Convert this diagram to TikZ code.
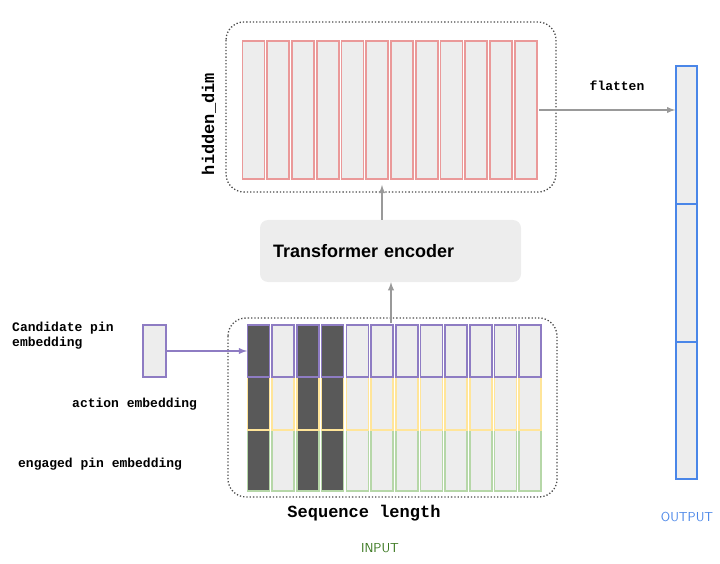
\documentclass[tikz,border=0pt]{standalone}
\usepackage{fontspec}
\setmainfont{Liberation Sans}
\newfontfamily\codefont{Liberation Mono}
\usepackage{tikz}
\definecolor{cellgray}{HTML}{EDEDED}
\definecolor{darkcell}{HTML}{595959}
\definecolor{hidred}{HTML}{EA9999}
\definecolor{candpurple}{HTML}{8E7CC3}
\definecolor{actyellow}{HTML}{FFE599}
\definecolor{enggreen}{HTML}{B6D7A8}
\definecolor{outblue}{HTML}{4A86E8}
\definecolor{inpgreen}{HTML}{38761D}
\definecolor{arrowgray}{HTML}{999999}
\tikzset{
  cell/.style={fill=cellgray, line width=1.6pt},
  group/.style={draw=black!70, dotted, line width=1.3pt, rounded corners=18pt},
  lbl/.style={font=\codefont\bfseries\fontsize{13}{15}\selectfont, align=left},
  link/.style={line width=1.8pt, -latex}
}
\begin{document}
\begin{tikzpicture}[x=1pt,y=-1pt]
\useasboundingbox (0,0) rectangle (720,564);
% hidden states
\draw[group] (226,22) rectangle (556,192);
\foreach \i in {0,...,11}
  \draw[cell, draw=hidred] (242.5+\i*24.75,41) rectangle (264.5+\i*24.75,179);
\node[lbl, font=\codefont\bfseries\fontsize{17}{19}\selectfont, rotate=90] (hid) at (209,124) {hidden\_dim};
\coordinate (topin) at (382,185);
\coordinate (topout) at (539,110);
% encoder
\node[fill=cellgray, rounded corners=8pt, minimum width=261pt, minimum height=62pt,
  font=\bfseries\fontsize{18}{20}\selectfont, text width=235pt, align=left] (enc) at (390.5,251) {Transformer encoder};
\draw[link, arrowgray] (enc.north -| topin) -- (topin);
% input grid
\draw[group] (228,318) rectangle (557,497);
\foreach \i in {0,...,11}{
  \pgfmathsetmacro{\xa}{247.5+\i*24.7}
  \pgfmathsetmacro{\xb}{\xa+22}
  \ifnum\i=0 \def\fc{darkcell}\else\ifnum\i=2 \def\fc{darkcell}\else\ifnum\i=3 \def\fc{darkcell}\else\def\fc{cellgray}\fi\fi\fi
  \draw[cell, fill=\fc, draw=enggreen] (\xa,430) rectangle (\xb,491);
  \draw[cell, fill=\fc, draw=actyellow] (\xa,377) rectangle (\xb,430);
  \draw[cell, fill=\fc, draw=candpurple] (\xa,325) rectangle (\xb,377);
}
\coordinate (gridin) at (247,351);
\coordinate (gridtop) at (391,323);
\draw[link, arrowgray] (gridtop) -- (enc.south -| gridtop);
% candidate
\node[draw=candpurple, fill=cellgray, line width=1.6pt, minimum width=23pt, minimum height=52pt, inner sep=0pt] (cand) at (154.5,351) {};
\draw[link, candpurple] (cand.east) -- (gridin);
\node[lbl, anchor=west, inner sep=0pt] (candl) at (12,336) {Candidate pin\\embedding};
\node[lbl, anchor=west, inner sep=0pt] (actl) at (72,404) {action embedding};
\node[lbl, anchor=west, inner sep=0pt] (engl) at (18,464) {engaged pin embedding};
\node[lbl, font=\codefont\bfseries\fontsize{17}{19}\selectfont] (seq) at (364,513) {Sequence length};
\node[text=inpgreen, font=\sffamily\fontsize{13}{15}\selectfont] (inp) at (380,548) {INPUT};
% output
\node[draw=outblue, fill=cellgray, line width=1.6pt, minimum width=21pt, minimum height=413pt, inner sep=0pt] (out) at (686.5,272.5) {};
\draw[outblue, line width=1.6pt] (676,204) -- (697,204) (676,342) -- (697,342);
\draw[link, arrowgray] (topout) -- (topout -| out.west);
\node[lbl] (flat) at (617,86) {flatten};
\node[text=outblue, font=\sffamily\fontsize{13}{15}\selectfont] (outl) at (687,517) {OUTPUT};
\end{tikzpicture}
\end{document}
